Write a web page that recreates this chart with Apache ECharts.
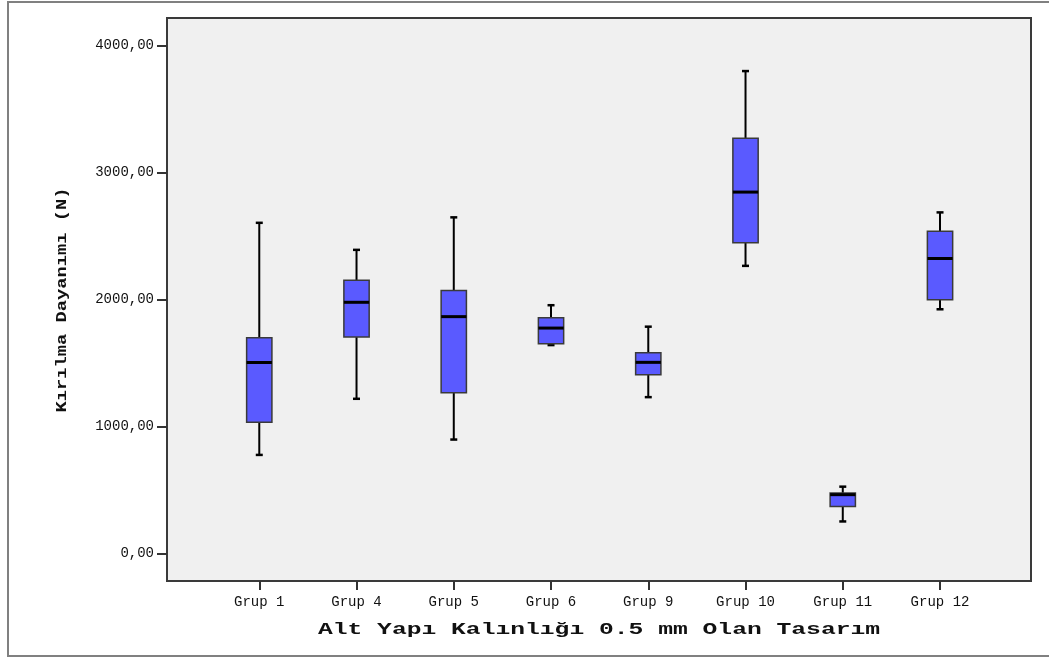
<!DOCTYPE html>
<html>
<head>
<meta charset="utf-8">
<script src="https://cdn.jsdelivr.net/npm/echarts@6/dist/echarts.min.js"></script>
<style>
html,body{margin:0;padding:0;background:#fff;}
#chart{width:1049px;height:660px;}
</style>
</head>
<body>
<div id="chart"></div>
<script>
// Data (values in N)
const categories = ['Grup 1','Grup 4','Grup 5','Grup 6','Grup 9','Grup 10','Grup 11','Grup 12'];
const whiskerLow  = [775, 1217, 896, 1640, 1230, 2264, 251, 1922];
const q1Values    = [1032, 1703, 1264, 1651, 1406, 2445, 369, 1998];
const medianVals  = [1503, 1977, 1864, 1774, 1504, 2845, 462, 2322];
const q3Values    = [1698, 2151, 2069, 1856, 1580, 3269, 475, 2537];
const whiskerHigh = [2603, 2390, 2646, 1954, 1785, 3798, 525, 2685];
const yTickValues = [0, 1000, 2000, 3000, 4000];
const xTitle = 'Alt Yapı Kalınlığı 0.5 mm Olan Tasarım';
const yTitle = 'Kırılma Dayanımı (N)';

const boxData = categories.map((c, i) => [i, whiskerLow[i], q1Values[i], medianVals[i], q3Values[i], whiskerHigh[i]]);

const chart = echarts.init(document.getElementById('chart'), null, {renderer: 'canvas'});
const MONO = '"Liberation Mono", "DejaVu Sans Mono", monospace';
const Y_MIN = -218, Y_MAX = 4216;

function renderBox(params, api) {
  const idx = api.value(0);
  const pLow = api.coord([idx, api.value(1)]);
  const pQ1 = api.coord([idx, api.value(2)]);
  const pMed = api.coord([idx, api.value(3)]);
  const pQ3 = api.coord([idx, api.value(4)]);
  const pHigh = api.coord([idx, api.value(5)]);
  const cx = pMed[0];
  const bw = api.size([1, 0])[0] * 0.26;
  const cap = 7;
  const line = {stroke: '#000', lineWidth: 2};
  return {
    type: 'group',
    children: [
      {type: 'line', shape: {x1: cx, y1: pHigh[1], x2: cx, y2: pQ3[1]}, style: line},
      {type: 'line', shape: {x1: cx, y1: pQ1[1], x2: cx, y2: pLow[1]}, style: line},
      {type: 'line', shape: {x1: cx - cap / 2, y1: pHigh[1], x2: cx + cap / 2, y2: pHigh[1]}, style: {stroke: '#000', lineWidth: 2.5}},
      {type: 'line', shape: {x1: cx - cap / 2, y1: pLow[1], x2: cx + cap / 2, y2: pLow[1]}, style: {stroke: '#000', lineWidth: 2.5}},
      {type: 'rect', shape: {x: cx - bw / 2, y: pQ3[1], width: bw, height: pQ1[1] - pQ3[1]},
        style: {fill: '#5a5aff', stroke: '#3a3a3a', lineWidth: 1.5}},
      {type: 'line', shape: {x1: cx - bw / 2, y1: pMed[1], x2: cx + bw / 2, y2: pMed[1]}, style: {stroke: '#000', lineWidth: 3}}
    ]
  };
}

const option = {
  backgroundColor: '#ffffff',
  animation: false,
  grid: [
    {left: 167, right: 18, top: 18, bottom: 79, show: true, backgroundColor: '#f0f0f0', borderColor: '#3a3a3a', borderWidth: 2, containLabel: false},
    {left: 210.65, right: 60.35, top: 18, bottom: 79, containLabel: false}
  ],
  xAxis: [
    {gridIndex: 0, type: 'value', show: false, min: 0, max: 1},
    {
      gridIndex: 1, type: 'category', data: categories, position: 'bottom',
      axisLine: {show: false, onZero: false},
      axisTick: {show: true, alignWithLabel: true, length: 9, lineStyle: {color: '#333', width: 2}},
      axisLabel: {margin: 14, color: '#111', fontFamily: MONO, fontSize: 14},
      splitLine: {show: false}
    }
  ],
  yAxis: [
    {
      gridIndex: 0, type: 'value', min: Y_MIN, max: Y_MAX,
      axisLine: {show: true, lineStyle: {color: '#3a3a3a', width: 2}},
      axisTick: {show: true, customValues: yTickValues, length: 10, lineStyle: {color: '#333', width: 2}},
      axisLabel: {customValues: yTickValues, margin: 13, color: '#111', fontFamily: MONO, fontSize: 14,
        formatter: v => v.toFixed(2).replace('.', ',')},
      splitLine: {show: false}
    },
    {gridIndex: 1, type: 'value', min: Y_MIN, max: Y_MAX, show: false}
  ],
  graphic: [
    {type: 'rect', silent: true, z: -10, shape: {x: 8, y: 2, width: 1060, height: 654},
      style: {fill: 'none', stroke: '#808080', lineWidth: 2}},
    {type: 'text', x: 599, y: 630, scaleX: 1.45,
      style: {text: xTitle, textAlign: 'center', textVerticalAlign: 'middle', fill: '#111',
        font: 'bold 17px "Liberation Mono", "DejaVu Sans Mono", monospace'}},
    {type: 'text', x: 62, y: 300, rotation: Math.PI / 2, scaleX: 1.25,
      style: {text: yTitle, textAlign: 'center', textVerticalAlign: 'middle', fill: '#111',
        font: 'bold 15px "Liberation Mono", "DejaVu Sans Mono", monospace'}}
  ],
  series: [
    {
      type: 'custom', xAxisIndex: 1, yAxisIndex: 1,
      renderItem: renderBox,
      encode: {x: 0, y: [1, 2, 3, 4, 5]},
      data: boxData,
      clip: false
    }
  ]
};
chart.setOption(option);
</script>
</body>
</html>
